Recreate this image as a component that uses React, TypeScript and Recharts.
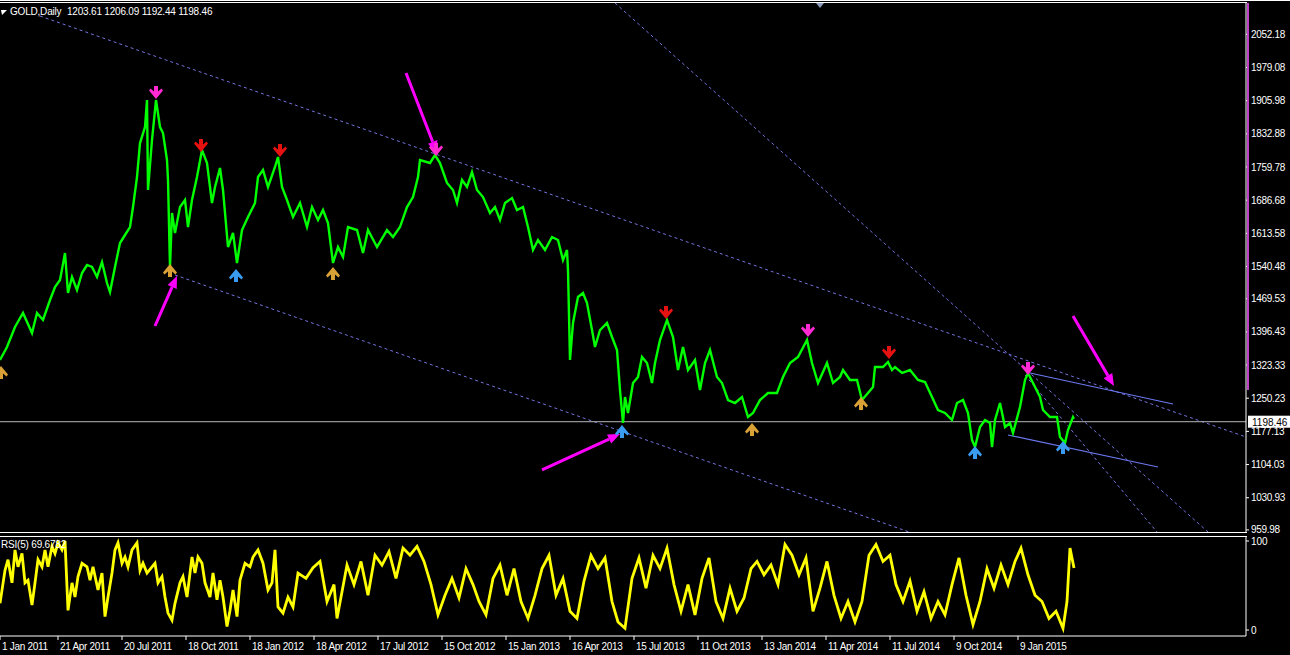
import React from 'react';
import { ComposedChart, Line, Scatter, XAxis, YAxis, ReferenceLine } from 'recharts';

// price: bar index (1 px per daily bar) and price
const priceBars = [
  0, 7, 15, 23, 32, 37, 43, 50, 55, 60, 65, 68, 72, 77, 82, 87, 92, 97, 102, 107,
  110, 115, 120, 125, 130, 133, 137, 140, 145, 147, 148, 152, 156, 160, 163, 167, 168, 170, 172, 175,
  180, 185, 188, 192, 197, 202, 207, 212, 215, 220, 223, 228, 233, 237, 242, 248, 255, 258, 263, 268,
  275, 278, 282, 287, 293, 300, 307, 312, 318, 323, 328, 333, 338, 343, 348, 357, 363, 368, 377, 387,
  393, 400, 407, 413, 418, 420, 430, 435, 440, 447, 453, 457, 462, 467, 472, 477, 483, 490, 495, 500,
  505, 512, 517, 523, 528, 533, 538, 545, 552, 558, 563, 567, 568, 570, 573, 578, 583, 587, 592, 595,
  600, 607, 612, 617, 620, 623, 625, 628, 633, 638, 642, 647, 652, 655, 660, 667, 673, 678, 683, 688,
  695, 700, 705, 710, 717, 722, 728, 735, 742, 748, 753, 760, 768, 777, 783, 790, 798, 807, 812, 818,
  827, 833, 840, 843, 850, 857, 862, 868, 873, 875, 883, 888, 892, 895, 902, 910, 918, 925, 932, 938,
  945, 952, 957, 963, 968, 972, 975, 980, 985, 990, 992, 995, 1000, 1005, 1010, 1013, 1020, 1025, 1028, 1033,
  1040, 1043, 1050, 1057, 1060, 1065, 1068, 1073, 1074,
];
const priceValues = [
  1334.4, 1363.1, 1407.2, 1438.0, 1393.9, 1438.0, 1422.6, 1466.7, 1495.3, 1510.7, 1570.2, 1482.1, 1517.4, 1488.7, 1526.2, 1543.8, 1539.4, 1517.4, 1550.4, 1504.1,
  1484.3, 1539.4, 1592.3, 1609.9, 1627.5, 1671.6, 1737.7, 1812.6, 1847.9, 1907.4, 1709.1, 1819.3, 1907.4, 1847.9, 1834.7, 1775.2, 1731.1, 1539.4, 1658.4, 1614.3,
  1671.6, 1687.0, 1627.5, 1687.0, 1737.7, 1797.2, 1768.6, 1680.4, 1715.7, 1757.6, 1709.1, 1583.5, 1614.3, 1548.2, 1620.9, 1649.6, 1680.4, 1737.7, 1753.1, 1715.7,
  1759.8, 1781.8, 1715.7, 1687.0, 1649.6, 1680.4, 1627.5, 1671.6, 1643.0, 1665.0, 1636.3, 1548.2, 1583.5, 1561.4, 1627.5, 1620.9, 1570.2, 1620.9, 1583.5, 1620.9,
  1605.5, 1627.5, 1671.6, 1693.6, 1737.7, 1775.2, 1768.6, 1786.2, 1768.6, 1724.5, 1709.1, 1680.4, 1731.1, 1715.7, 1748.7, 1709.1, 1693.6, 1658.4, 1671.6, 1643.0,
  1680.4, 1691.4, 1665.0, 1671.6, 1627.5, 1576.8, 1598.9, 1576.8, 1605.5, 1598.9, 1554.8, 1576.8, 1532.8, 1334.4, 1416.0, 1473.3, 1482.1, 1460.0, 1400.5, 1363.1,
  1400.5, 1416.0, 1385.1, 1356.5, 1268.3, 1195.6, 1252.9, 1217.6, 1283.8, 1297.0, 1341.1, 1327.8, 1283.8, 1327.8, 1378.5, 1422.6, 1385.1, 1312.4, 1363.1, 1312.4,
  1334.4, 1268.3, 1327.8, 1356.5, 1297.0, 1283.8, 1246.3, 1239.7, 1252.9, 1208.8, 1217.6, 1246.3, 1261.7, 1261.7, 1297.0, 1327.8, 1341.1, 1378.5, 1327.8, 1283.8,
  1327.8, 1283.8, 1297.0, 1312.4, 1290.4, 1290.4, 1246.3, 1261.7, 1274.9, 1319.0, 1319.0, 1330.0, 1312.4, 1319.0, 1305.8, 1312.4, 1290.4, 1286.0, 1252.9, 1224.3,
  1217.6, 1202.2, 1239.7, 1246.3, 1217.6, 1158.1, 1142.7, 1186.8, 1202.2, 1195.6, 1142.7, 1202.2, 1239.7, 1186.8, 1195.6, 1173.6, 1230.9, 1290.4, 1305.8, 1283.8,
  1252.9, 1224.3, 1208.8, 1208.8, 1164.8, 1151.5, 1180.2, 1208.8, 1205.0,
];

const rsiBars = [
  0, 5, 8, 12, 15, 18, 22, 25, 28, 32, 35, 38, 42, 45, 48, 52, 55, 58, 62, 65,
  68, 72, 75, 78, 82, 87, 90, 93, 98, 102, 105, 108, 112, 115, 118, 122, 125, 128, 132, 137,
  140, 143, 147, 152, 155, 158, 162, 165, 168, 172, 175, 180, 183, 187, 192, 195, 198, 202, 205, 210,
  213, 217, 220, 223, 227, 230, 233, 237, 240, 245, 250, 253, 258, 263, 268, 272, 275, 278, 283, 288,
  293, 298, 306, 313, 320, 327, 334, 337, 347, 354, 361, 368, 375, 382, 389, 396, 403, 410, 417, 424,
  431, 438, 445, 452, 459, 466, 473, 479, 486, 493, 500, 507, 514, 521, 528, 535, 542, 549, 556, 563,
  570, 577, 584, 591, 598, 605, 612, 618, 625, 632, 639, 646, 653, 660, 667, 674, 681, 688, 695, 702,
  709, 716, 723, 730, 737, 744, 751, 757, 764, 771, 778, 785, 792, 799, 806, 813, 820, 827, 834, 841,
  848, 855, 862, 869, 876, 883, 890, 896, 903, 910, 917, 924, 931, 938, 945, 952, 959, 966, 973, 980,
  987, 994, 1001, 1008, 1015, 1021, 1028, 1035, 1042, 1049, 1056, 1063, 1067, 1070, 1074,
];
const rsiValues = [
  30, 67, 79, 53, 90, 71, 86, 53, 56, 28, 53, 79, 71, 90, 71, 94, 86, 98, 90, 100,
  22, 53, 37, 60, 75, 71, 56, 71, 45, 64, 15, 37, 64, 90, 98, 75, 82, 71, 90, 98,
  67, 75, 64, 71, 75, 53, 60, 37, 19, 11, 30, 53, 60, 37, 82, 64, 82, 75, 53, 37,
  64, 34, 56, 37, 4, 22, 45, 15, 56, 75, 71, 82, 90, 75, 45, 53, 90, 26, 19, 37,
  26, 64, 58, 70, 77, 32, 51, 13, 73, 51, 77, 39, 84, 73, 88, 58, 92, 84, 94, 77,
  51, 17, 39, 58, 36, 69, 51, 32, 17, 58, 73, 39, 69, 32, 13, 39, 69, 84, 39, 58,
  21, 13, 55, 84, 69, 81, 32, 9, 2, 58, 81, 47, 84, 69, 92, 51, 21, 51, 17, 58,
  81, 32, 13, 47, 21, 36, 69, 77, 62, 73, 51, 96, 84, 62, 81, 21, 47, 77, 39, 13,
  32, 9, 32, 84, 96, 77, 84, 51, 32, 55, 21, 43, 13, 32, 17, 51, 81, 39, 6, 32,
  69, 47, 73, 51, 77, 92, 62, 39, 32, 13, 21, 2, 32, 92, 69.68,
];

const priceTicks = [2052.18, 1979.08, 1905.98, 1832.88, 1759.78, 1686.68, 1613.58, 1540.48, 1469.53, 1396.43, 1323.33, 1250.23, 1177.13, 1104.03, 1030.93, 959.98];
const dateTickBars = [0, 58, 122, 186, 250, 314, 378, 442, 506, 570, 634, 698, 762, 826, 890, 954, 1018];
const dateTickLabels = ['1 Jan 2011', '21 Apr 2011', '20 Jul 2011', '18 Oct 2011', '18 Jan 2012', '18 Apr 2012', '17 Jul 2012', '15 Oct 2012', '15 Jan 2013', '16 Apr 2013', '15 Jul 2013', '11 Oct 2013', '13 Jan 2014', '11 Apr 2014', '11 Jul 2014', '9 Oct 2014', '9 Jan 2015'];

// fractal arrows: [bar, price]
const pinkDown = [[156, 1922.9], [436, 1797.2], [808, 1398.4], [1028, 1314.6]];
const redDown = [[201, 1806.0], [280, 1795.0], [666, 1438.0], [889, 1349.9]];
const orangeUp = [[1, 1308.0], [170, 1532.8], [333, 1526.2], [752, 1182.4], [861, 1239.7]];
const blueUp = [[236, 1521.8], [622, 1178.0], [975, 1131.7], [1063, 1142.7]];

// trendlines: [bar1, price1, bar2, price2]
const dottedLines = [
  [40, 2092.5, 1246, 1164.8],
  [175, 1521.8, 912, 953.2],
  [615, 2121.2, 1208, 955.4],
  [1025, 1301.4, 1157, 955.4],
];
const solidLines = [
  [1030, 1305.8, 1173, 1237.5],
  [1008, 1169.2, 1158, 1098.7],
];
const pointerArrows = [
  [155, 1409.4, 177, 1519.6],
  [406, 1966.9, 437, 1790.6],
  [542, 1092.1, 620, 1171.4],
  [1073, 1431.4, 1114, 1277.2],
];

const lastClose = 1198.46;
const FONT = 'Liberation Sans, Arial, sans-serif';

const priceData = priceBars.map((x, i) => ({ x, p: priceValues[i] }));
const rsiData = rsiBars.map((x, i) => ({ x, r: rsiValues[i] }));
const toPts = (arr: number[][]) => arr.map(([x, p]) => ({ x, p }));

const fractalShape = (color: string, down: boolean) => (props: any) => {
  const { cx, cy } = props;
  if (cx == null || cy == null) return <g />;
  const s = down ? 1 : -1;
  const pts = [[-2, -7], [2, -7], [2, -1.5], [5.5, -4.5], [7, -2.5], [0, 6], [-7, -2.5], [-5.5, -4.5], [-2, -1.5]]
    .map(([dx, dy]) => `${cx + dx},${cy + s * dy}`)
    .join(' ');
  return <polygon points={pts} fill={color} />;
};

const MagentaArrow = (props: any) => {
  const { x1, y1, x2, y2 } = props;
  const a = Math.atan2(y2 - y1, x2 - x1);
  const L = 12;
  const W = 5;
  const bx = x2 - L * Math.cos(a);
  const by = y2 - L * Math.sin(a);
  const px = -Math.sin(a) * W;
  const py = Math.cos(a) * W;
  return (
    <g>
      <line x1={x1} y1={y1} x2={bx} y2={by} stroke="#ff00ff" strokeWidth={3} />
      <polygon points={`${x2},${y2} ${bx + px},${by + py} ${bx - px},${by - py}`} fill="#ff00ff" />
    </g>
  );
};

const PriceLabel = (props: any) => {
  const vb = props.viewBox || {};
  const x = (vb.x || 0) + (vb.width || 0) + 2;
  const y = vb.y || 0;
  return (
    <g>
      <rect x={x} y={y - 6} width={44} height={12} fill="#ffffff" />
      <text x={x + 4} y={y + 4} fill="#000" fontSize={10} fontFamily={FONT}>{lastClose.toFixed(2)}</text>
    </g>
  );
};

const DateTick = (props: any) => {
  const { x, y, payload } = props;
  const idx = dateTickBars.indexOf(payload.value);
  return (
    <text x={x + 2} y={y} dy={8} fill="#ffffff" fontSize={10} fontFamily={FONT} textAnchor="start" letterSpacing={-0.3}>
      {idx >= 0 ? dateTickLabels[idx] : ''}
    </text>
  );
};

export default function App() {
  return (
    <div style={{ position: 'absolute', left: 0, top: 0, width: 1290, height: 655, background: '#000', overflow: 'hidden', fontFamily: FONT }}>
      <div style={{ position: 'absolute', left: 0, top: 0 }}>
        <ComposedChart width={1290} height={535} margin={{ top: 3, right: 0, left: 0, bottom: 3 }}>
          <XAxis type="number" dataKey="x" domain={[0, 1246]} allowDataOverflow hide />
          <YAxis
            orientation="right"
            width={44}
            type="number"
            domain={[955.4, 2121.2]}
            allowDataOverflow
            ticks={priceTicks}
            interval={0}
            tickFormatter={(v: number) => v.toFixed(2)}
            tick={{ fill: '#ffffff', fontSize: 10, fontFamily: FONT, letterSpacing: -0.3 }}
            tickSize={3}
            tickMargin={2}
            axisLine={{ stroke: '#ffffff' }}
            tickLine={{ stroke: '#ffffff' }}
          />
          {dottedLines.map((l, i) => (
            <ReferenceLine key={'d' + i} segment={[{ x: l[0], y: l[1] }, { x: l[2], y: l[3] }]} stroke="#7474e0" strokeDasharray="3 3" ifOverflow="hidden" />
          ))}
          {solidLines.map((l, i) => (
            <ReferenceLine key={'s' + i} segment={[{ x: l[0], y: l[1] }, { x: l[2], y: l[3] }]} stroke="#6a78f0" strokeWidth={1.2} ifOverflow="hidden" />
          ))}
          <ReferenceLine y={lastClose} stroke="#b8b8b8" strokeWidth={1} label={<PriceLabel />} />
          <Line data={priceData} dataKey="p" type="linear" stroke="#00ff00" strokeWidth={2.4} strokeLinejoin="miter" dot={false} isAnimationActive={false} />
          <Scatter data={toPts(pinkDown)} dataKey="p" shape={fractalShape('#ff2ad4', true)} isAnimationActive={false} />
          <Scatter data={toPts(redDown)} dataKey="p" shape={fractalShape('#e61212', true)} isAnimationActive={false} />
          <Scatter data={toPts(orangeUp)} dataKey="p" shape={fractalShape('#d9a036', false)} isAnimationActive={false} />
          <Scatter data={toPts(blueUp)} dataKey="p" shape={fractalShape('#3a9cf0', false)} isAnimationActive={false} />
          {pointerArrows.map((l, i) => (
            <ReferenceLine key={'a' + i} segment={[{ x: l[0], y: l[1] }, { x: l[2], y: l[3] }]} ifOverflow="visible" shape={<MagentaArrow />} />
          ))}
        </ComposedChart>
      </div>

      <div style={{ position: 'absolute', left: 0, top: 536 }}>
        <ComposedChart width={1290} height={119} margin={{ top: 1, right: 0, left: 0, bottom: 0 }}>
          <XAxis
            type="number"
            dataKey="x"
            domain={[0, 1246]}
            allowDataOverflow
            ticks={dateTickBars}
            interval={0}
            height={19}
            tick={<DateTick />}
            tickSize={4}
            tickMargin={2}
            axisLine={{ stroke: '#ffffff' }}
            tickLine={{ stroke: '#ffffff' }}
          />
          <YAxis
            orientation="right"
            width={44}
            type="number"
            domain={[-6.74, 104.49]}
            allowDataOverflow
            ticks={[0, 100]}
            interval={0}
            tick={{ fill: '#ffffff', fontSize: 10, fontFamily: FONT }}
            tickSize={3}
            tickMargin={2}
            axisLine={{ stroke: '#ffffff' }}
            tickLine={{ stroke: '#ffffff' }}
          />
          <Line data={rsiData} dataKey="r" type="linear" stroke="#ffff00" strokeWidth={2.8} dot={false} isAnimationActive={false} />
        </ComposedChart>
      </div>

      {/* panel frames and labels */}
      <div style={{ position: 'absolute', left: 0, top: 0, width: 1290, height: 1, background: '#ffffff' }} />
      <div style={{ position: 'absolute', left: 0, top: 2, width: 1247, height: 1, background: '#ffffff' }} />
      <div style={{ position: 'absolute', left: 0, top: 532, width: 1247, height: 1, background: '#ffffff' }} />
      <div style={{ position: 'absolute', left: 0, top: 536, width: 1247, height: 1, background: '#ffffff' }} />
      <div style={{ position: 'absolute', left: 1247, top: 3, width: 2, height: 387, background: '#c040c8' }} />
      <svg style={{ position: 'absolute', left: 0, top: 0 }} width={1290} height={655}>
        <polygon points="816,3 824,3 820,8" fill="#8a9ab8" />
        <polygon points="1,10 7,10 2,15" fill="#ffffff" />
        <text x={10} y={15} fill="#ffffff" fontSize={10} fontFamily={FONT} letterSpacing={-0.2}>GOLD,Daily</text>
        <text x={67} y={15} fill="#ffffff" fontSize={10} fontFamily={FONT} letterSpacing={-0.2}>1203.61 1206.09 1192.44 1198.46</text>
        <text x={1} y={548} fill="#ffffff" fontSize={10} fontFamily={FONT} letterSpacing={-0.2}>RSI(5) 69.6782</text>
      </svg>
    </div>
  );
}
